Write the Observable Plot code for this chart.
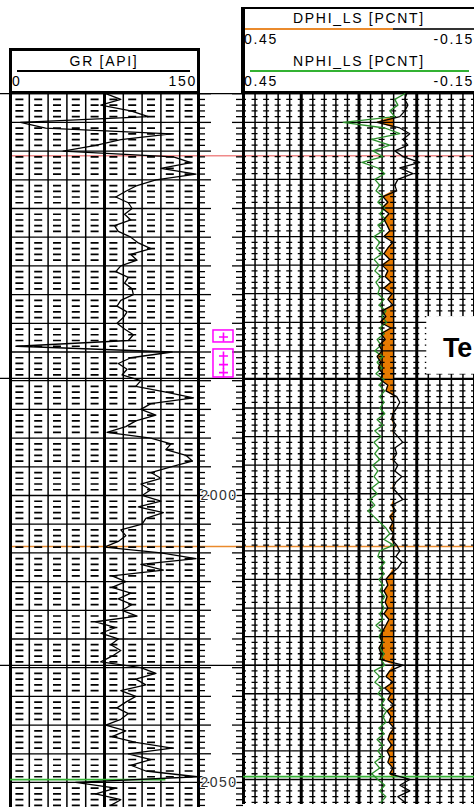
<!DOCTYPE html>
<html><head><meta charset="utf-8">
<script src="https://cdn.jsdelivr.net/npm/d3@7"></script>
<script src="https://cdn.jsdelivr.net/npm/@observablehq/plot@0.6"></script>
<style>
html,body{margin:0;padding:0;background:#fff;overflow:hidden}
#page{position:relative;width:474px;height:807px;overflow:hidden;font-family:"Liberation Sans",Arial,sans-serif;color:#000;background:#fff}
.t{position:absolute;font-size:14px;letter-spacing:1.7px;line-height:1;white-space:nowrap}
.box{position:absolute;box-sizing:border-box}
.hl{position:absolute}
.mnt{position:absolute}
</style></head><body><div id="page"></div><script>
// ---------------- data ----------------
const depth = d3.range(1930, 2055); // sample depths, 1 unit step
const gr = [76,88,72,96,110,8,28,128,88,68,
 42,130,144,120,148,116,101,92,84,94,
 97,91,96,83,86,96,102,112,96,101,
 88,84,94,91,97,98,88,85,93,90,
 85,91,98,94,5,129,96,86,93,89,
 104,100,124,146,112,104,116,100,92,77,
 112,128,124,140,145,128,112,120,104,112,
 105,120,102,122,108,105,88,92,86,75,
 120,148,104,122,81,92,81,96,86,97,
 89,101,68,84,72,86,80,88,81,72,
 104,116,100,108,88,100,92,85,94,88,
 76,92,81,100,129,94,112,96,108,149,
 52,84,68,88,80];
const dphi = [0.026,0.031,0.023,0.031,0.044,0.103,0.044,0.018,0.036,0.023,
 0.057,0.036,-0.008,0.044,0.010,0.049,0.057,0.052,0.088,0.075,
 0.090,0.072,0.085,0.077,0.070,0.085,0.062,0.075,0.085,0.070,
 0.090,0.075,0.082,0.067,0.085,0.064,0.075,0.062,0.090,0.080,
 0.095,0.067,0.093,0.082,0.098,0.090,0.103,0.093,0.100,0.088,
 0.095,0.075,0.080,0.052,0.044,0.052,0.062,0.065,0.054,0.062,
 0.049,0.036,0.057,0.052,0.062,0.049,0.057,0.039,0.054,0.062,
 0.049,0.036,0.065,0.054,0.070,0.062,0.070,0.060,0.065,0.052,
 0.044,0.054,0.039,0.049,0.068,0.080,0.075,0.085,0.077,0.082,
 0.075,0.085,0.072,0.080,0.088,0.095,0.090,0.098,0.093,0.095,
 0.036,0.070,0.080,0.062,0.083,0.067,0.075,0.059,0.077,0.067,
 0.072,0.059,0.070,0.075,0.065,0.077,0.070,0.075,0.062,0.070,
 0.018,0.044,0.018,0.049,0.031];
const nphi = [0.031,0.057,0.049,0.070,0.057,0.191,0.083,0.044,0.117,0.070,
 0.114,0.088,0.142,0.101,0.083,0.109,0.096,0.106,0.088,0.101,
 0.083,0.096,0.080,0.101,0.088,0.111,0.096,0.106,0.090,0.111,
 0.098,0.109,0.093,0.106,0.096,0.101,0.085,0.098,0.080,0.090,
 0.078,0.096,0.085,0.103,0.093,0.109,0.088,0.103,0.090,0.106,
 0.085,0.098,0.083,0.096,0.085,0.096,0.083,0.103,0.088,0.109,
 0.093,0.111,0.098,0.109,0.096,0.114,0.101,0.111,0.098,0.117,
 0.103,0.122,0.109,0.127,0.111,0.096,0.080,0.070,0.085,0.060,
 0.096,0.101,0.083,0.096,0.085,0.098,0.088,0.096,0.083,0.093,
 0.085,0.096,0.088,0.106,0.090,0.098,0.088,0.096,0.085,0.093,
 0.083,0.111,0.096,0.109,0.090,0.101,0.083,0.093,0.078,0.088,
 0.080,0.098,0.085,0.103,0.088,0.101,0.090,0.109,0.096,0.117,
 0.101,0.083,0.096,0.080,0.093];
const dphiCutoff = 0.06;
const grMajorTicks = [0, 75, 150];
const grMinorTicks = [15, 30, 45, 60, 90, 105, 120, 135];
const porMajorTicks = [0.45, 0.30, 0.15, 0, -0.15];
const porMinorTicks = [0.42,0.39,0.36,0.33,0.27,0.24,0.21,0.18,0.12,0.09,0.06,0.03,-0.03,-0.06,-0.09,-0.12];
const depthMajorTicks = d3.range(1930, 2056, 5);
const depthMinorTicks = d3.range(1930, 2056).filter(d => d % 5 !== 0);
const depthLabels = [2000, 2050];
const pageLines = [1930, 1979.6, 2029.6];
const redMarker = [1940.8];
const orangeMarker = [2008.9];
const greenMarker = [2049.5];
const perfBoxes = [{top: 1971.25, bottom: 1973.34}, {top: 1974.56, bottom: 1979.44}];
const perfShots = [1972.4, 1975.7, 1977.2, 1978.6];
const noteBox = [{x1: -0.026, x2: -0.16, top: 1969.0, bottom: 1979.1}];
const noteText = ["Te"];

const rows = depth.map((d, i) => ({depth: d, gr: gr[i], dphi: dphi[i], nphi: nphi[i]}));

// ---------------- styles ----------------
const GREEN = "#2a8f2a", GREEN_L = "#33b233", ORANGE = "#e67a00", ORANGE_L = "#ea8a2c", RED_L = "#f08a8a", MAG = "#ff00ff";
const trackDomain = [1929.79, 2054.36], trackH = 715;
const page = document.getElementById("page");
const base = {background: "transparent", overflow: "visible", fontFamily: "Liberation Sans, Arial, sans-serif"};

function mount(node, left, top) {
  const w = document.createElement("div"); w.className = "mnt";
  w.style.left = left + "px"; w.style.top = top + "px";
  w.appendChild(node); page.appendChild(w);
}
function label(txt, x, y, align) {
  const el = document.createElement("div"); el.className = "t"; el.textContent = txt;
  el.style.top = y + "px";
  if (align === "center") { el.style.left = x + "px"; el.style.transform = "translate(-50%,-50%)"; }
  else if (align === "right") { el.style.right = (474 - x) + "px"; el.style.transform = "translateY(-50%)"; }
  else { el.style.left = x + "px"; el.style.transform = "translateY(-50%)"; }
  page.appendChild(el);
}
function hline(x1, x2, y, color, w) {
  const el = document.createElement("div"); el.className = "hl";
  el.style.cssText = `left:${x1}px;top:${y - w / 2}px;width:${x2 - x1}px;height:${w}px;background:${color}`;
  page.appendChild(el);
}

// ---------------- background full-width lines ----------------
mount(Plot.plot({
  width: 474, height: 807, margin: 0, style: base,
  x: {domain: [0, 1], axis: null},
  y: {domain: [1913.76, 2054.36], range: [0, 807], axis: null},
  marks: [
    Plot.ruleY(pageLines, {stroke: "#000", strokeWidth: 1.3}),
    Plot.ruleY(redMarker, {stroke: RED_L, strokeWidth: 1.5, insetLeft: 10}),
    Plot.ruleY(orangeMarker, {stroke: ORANGE_L, strokeWidth: 1.5, insetLeft: 10})
  ]
}), 0, 0);

// ---------------- GR track ----------------
mount(Plot.plot({
  width: 188, height: trackH, margin: 0, style: base,
  x: {domain: [0, 150], axis: null},
  y: {domain: trackDomain, range: [0, trackH], axis: null},
  marks: [
    Plot.ruleY(depthMinorTicks, {stroke: "#000", strokeWidth: 1.7, strokeDasharray: "8,10.8", strokeDashoffset: -5.4}),
    Plot.ruleY(depthMajorTicks, {stroke: "#000", strokeWidth: 1.3}),
    Plot.ruleX(grMinorTicks, {stroke: "#000", strokeWidth: 1.5}),
    Plot.ruleX(grMajorTicks, {stroke: "#000", strokeWidth: 3}),
    Plot.ruleY(greenMarker, {x1: 0, x2: 124, stroke: GREEN_L, strokeWidth: 1.6}),
    Plot.line(rows, {x: "gr", y: "depth", stroke: "#000", strokeWidth: 1.3, clip: true})
  ]
}), 10, 92);

// ---------------- depth track ----------------
mount(Plot.plot({
  width: 45, height: trackH, margin: 0, style: {...base, letterSpacing: "1.5px"},
  x: {domain: [0, 1], axis: null},
  y: {domain: trackDomain, range: [0, trackH], axis: null},
  marks: [
    Plot.ruleY(depthMinorTicks, {stroke: "#000", strokeWidth: 1.3, insetRight: 38}),
    Plot.ruleY(depthMajorTicks, {stroke: "#000", strokeWidth: 1.3, insetRight: 32}),
    Plot.ruleY(depthMinorTicks, {stroke: "#000", strokeWidth: 1.3, insetLeft: 38}),
    Plot.ruleY(depthMajorTicks, {stroke: "#000", strokeWidth: 1.3, insetLeft: 34}),
    Plot.text(depthLabels, {y: d => d, text: d => String(d), frameAnchor: "left", textAnchor: "start", dx: 2, fontSize: 14, fill: "#333", stroke: "white", strokeWidth: 2}),
    Plot.rect(perfBoxes, {x1: 0.333, x2: 0.778, y1: "top", y2: "bottom", fill: "none", stroke: MAG, strokeWidth: 1.5}),
    Plot.dot(perfShots, {x: 0.555, y: d => d, symbol: "plus", r: 3, stroke: MAG, strokeWidth: 1.6})
  ]
}), 198, 92);

// ---------------- porosity track ----------------
mount(Plot.plot({
  width: 232, height: trackH, margin: 0, style: base,
  x: {domain: [0.45, -0.15], axis: null},
  y: {domain: trackDomain, range: [0, trackH], axis: null},
  marks: [
    Plot.areaX(rows, {y: "depth", x1: dphiCutoff, x2: d => Math.max(d.dphi, dphiCutoff), fill: ORANGE}),
    Plot.ruleY(depthMinorTicks, {stroke: "#000", strokeWidth: 1.3, strokeDasharray: "6,5.6", strokeDashoffset: 3}),
    Plot.ruleY(depthMajorTicks, {stroke: "#000", strokeWidth: 1.3}),
    Plot.ruleX(porMinorTicks, {stroke: "#000", strokeWidth: 1.5}),
    Plot.ruleX(porMajorTicks, {stroke: "#000", strokeWidth: 3}),
    Plot.ruleY(greenMarker, {stroke: GREEN_L, strokeWidth: 1.6}),
    Plot.line(rows, {x: "nphi", y: "depth", stroke: GREEN, strokeWidth: 1.3, clip: true}),
    Plot.line(rows, {x: "dphi", y: "depth", stroke: "#000", strokeWidth: 1.3, clip: true}),
    Plot.rect(noteBox, {x1: "x1", x2: "x2", y1: "top", y2: "bottom", fill: "white"}),
    Plot.text(noteText, {x: -0.068, y: 1974.6, text: d => d, textAnchor: "start", fontSize: 27, fontWeight: "bold", fill: "#000"})
  ]
}), 243, 92);

// ---------------- headers ----------------
const grBox = document.createElement("div"); grBox.className = "box";
grBox.style.cssText += "left:9px;top:48px;width:191px;height:45px;border:3px solid #000;border-bottom-width:2px;background:#fff";
page.appendChild(grBox);
label("GR [API]", 104, 61, "center");
hline(17, 190, 71, "#000", 1.2);
label("0", 12, 81, "left");
label("150", 197, 81, "right");

const pBox = document.createElement("div"); pBox.className = "box";
pBox.style.cssText += "left:241px;top:7px;width:240px;height:86px;border-left:4px solid #000;border-top:2px solid #000;border-bottom:2px solid #000;background:#fff";
page.appendChild(pBox);
label("DPHI_LS [PCNT]", 359, 18, "center");
hline(245, 393, 29, ORANGE_L, 1.5);
hline(393, 474, 29, "#333", 1.2);
label("0.45", 244, 39, "left");
label("-0.15", 474, 39, "right");
label("NPHI_LS [PCNT]", 359, 61, "center");
hline(250, 469, 71, GREEN_L, 1.5);
label("0.45", 244, 81, "left");
label("-0.15", 474, 81, "right");
</script></body></html>
